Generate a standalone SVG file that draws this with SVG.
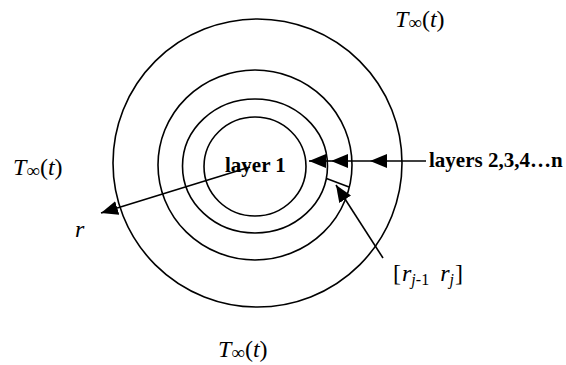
<svg xmlns="http://www.w3.org/2000/svg" width="566" height="365" viewBox="0 0 566 365">
<style>
.ring{fill:none;stroke:#000;stroke-width:1.6}
.conn{fill:none;stroke:#000;stroke-width:1.6;marker-end:url(#ah)}
.plain{fill:none;stroke:#000;stroke-width:1.6}
.math{font-family:"Liberation Serif","Times New Roman",serif;font-size:24px;fill:#000}
.it{font-style:italic}
.bold{font-family:"Liberation Serif","Times New Roman",serif;font-weight:bold;font-size:21px;fill:#000}
</style>
<defs>
<marker id="ah" viewBox="0 0 17 14" refX="17" refY="7" markerWidth="17" markerHeight="14" markerUnits="userSpaceOnUse" orient="auto">
<path d="M0,0 L17,7 L0,14 z" fill="#000"/>
</marker>
</defs>
<g id="rings">
<ellipse id="outer" class="ring" cx="257.5" cy="163" rx="144.5" ry="144"/>
<ellipse id="ring2" class="ring" cx="255" cy="165" rx="97" ry="95"/>
<ellipse id="ring3" class="ring" cx="255" cy="166" rx="72.5" ry="67"/>
<ellipse id="layer1" class="ring" cx="255" cy="166.5" rx="51" ry="49.5"/>
</g>
<g id="connectors">
<path class="conn" d="M250,167 L101,213"/>
<path class="conn" d="M426,161 H370"/>
<path class="conn" d="M370,161 H331"/>
<path class="conn" d="M331,161 H309"/>
<path class="plain" d="M326.5,178.5 L349,187"/>
<path class="conn" d="M383,258 L336,185"/>
</g>
<g id="label-layer1"><text class="bold" x="225" y="172">layer 1</text></g>
<g id="label-layers"><text class="bold" x="429" y="167">layers 2,3,4…n</text></g>
<g id="label-r"><text class="math it" x="75" y="237">r</text></g>
<g id="label-interval"><text class="math" x="393" y="281">[<tspan class="it" dx="1">r</tspan><tspan font-size="16" dy="4"><tspan class="it">j</tspan>-1</tspan><tspan dy="-4"> </tspan><tspan class="it" dx="5">r</tspan><tspan font-size="16" dy="4" class="it">j</tspan><tspan dy="-4" dx="1">]</tspan></text></g>
<g id="label-T-top"><text class="math" x="395" y="27"><tspan class="it">T</tspan><tspan font-size="19" dy="2">∞</tspan><tspan dy="-2">(</tspan><tspan class="it">t</tspan>)</text></g>
<g id="label-T-left"><text class="math" x="13" y="175"><tspan class="it">T</tspan><tspan font-size="19" dy="2">∞</tspan><tspan dy="-2">(</tspan><tspan class="it">t</tspan>)</text></g>
<g id="label-T-bottom"><text class="math" x="218" y="357"><tspan class="it">T</tspan><tspan font-size="19" dy="2">∞</tspan><tspan dy="-2">(</tspan><tspan class="it">t</tspan>)</text></g>
</svg>
